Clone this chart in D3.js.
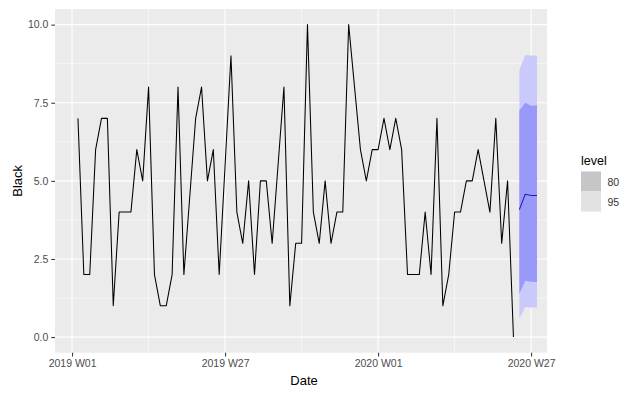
<!DOCTYPE html>
<html>
<head>
<meta charset="utf-8">
<script src="https://d3js.org/d3.v7.min.js"></script>
<style>
	body { margin: 0; background: white; }
	text { font-family: "Liberation Sans", Arial, sans-serif; }
</style>
</head>
<body>
<svg id="chart" width="628" height="396"></svg>
<script>
// Weekly "Black" series with a 4 week forecast (80 / 95 intervals)

// weeks are counted from 2019 W01 (= 0); 2019 has 52 ISO weeks
var start_week = 1; // first observation is 2019 W02
var black = [7, 2, 2, 6, 7, 7, 1, 4, 4, 4, 6, 5, 8, 2, 1, 1, 2, 8, 2, 4.5, 7, 8, 5, 6, 2, 5.5,
	9, 4, 3, 5, 2, 5, 5, 3, 5.5, 8, 1, 3, 3, 10, 4, 3, 5, 3, 4, 4, 10, 8, 6, 5, 6,
	6, 7, 6, 7, 6, 2, 2, 2, 4, 2, 7, 1, 2, 4, 4, 5, 5, 6, 5, 4, 7, 3, 5, 0];

var fc_weeks = [76, 77, 78, 79]; // 2020 W25 .. W28
var fc_mean = [4.08, 4.57, 4.53, 4.53];
var lo80 = [1.39, 1.80, 1.77, 1.76];
var hi80 = [7.25, 7.50, 7.40, 7.42];
var lo95 = [0.59, 0.96, 0.95, 0.95];
var hi95 = [8.55, 9.03, 9.01, 9.01];

var x_ticks = [0, 26, 52, 78];
var x_tick_labels = ["2019 W01", "2019 W27", "2020 W01", "2020 W27"];
var x_minor = [13, 39, 65];
var y_ticks = [0, 2.5, 5, 7.5, 10];
var y_minor = [1.25, 3.75, 6.25, 8.75];

var levels = ["80", "95"];
var level_keys = ["#c6c6c6", "#e2e2e2"];

function draw_chart(){
	var svg = d3.select("#chart");
	var panel = {left: 55, right: 547, top: 9, bottom: 352.7};

	var x = d3.scaleLinear().domain([-2.9, 80.7]).range([panel.left, panel.right]);
	var y = d3.scaleLinear().domain([-0.5, 10.5]).range([panel.bottom, panel.top]);

	svg.append("rect")
		.attr("x", panel.left).attr("y", panel.top)
		.attr("width", panel.right - panel.left)
		.attr("height", panel.bottom - panel.top)
		.attr("fill", "#ebebeb");

	var grid = svg.append("g").attr("stroke", "white");
	grid.selectAll(".ymin").data(y_minor).enter().append("line")
		.attr("x1", panel.left).attr("x2", panel.right)
		.attr("y1", d => y(d)).attr("y2", d => y(d))
		.attr("stroke-width", 0.55);
	grid.selectAll(".xmin").data(x_minor).enter().append("line")
		.attr("y1", panel.top).attr("y2", panel.bottom)
		.attr("x1", d => x(d)).attr("x2", d => x(d))
		.attr("stroke-width", 0.55);
	grid.selectAll(".ymaj").data(y_ticks).enter().append("line")
		.attr("x1", panel.left).attr("x2", panel.right)
		.attr("y1", d => y(d)).attr("y2", d => y(d))
		.attr("stroke-width", 1.1);
	grid.selectAll(".xmaj").data(x_ticks).enter().append("line")
		.attr("y1", panel.top).attr("y2", panel.bottom)
		.attr("x1", d => x(d)).attr("x2", d => x(d))
		.attr("stroke-width", 1.1);

	// forecast intervals, 95 underneath 80
	var fc = fc_weeks.map((w, i) => ({w: w, m: fc_mean[i], l80: lo80[i], h80: hi80[i], l95: lo95[i], h95: hi95[i]}));
	svg.append("path").datum(fc)
		.attr("fill", "#c9c9fc")
		.attr("d", d3.area().x(d => x(d.w)).y0(d => y(d.l95)).y1(d => y(d.h95)));
	svg.append("path").datum(fc)
		.attr("fill", "#9999f9")
		.attr("d", d3.area().x(d => x(d.w)).y0(d => y(d.l80)).y1(d => y(d.h80)));

	var obs = black.map((v, i) => ({w: start_week + i, v: v}));
	svg.append("path").datum(obs)
		.attr("fill", "none")
		.attr("stroke", "black")
		.attr("stroke-width", 1.05)
		.attr("stroke-linejoin", "round")
		.attr("d", d3.line().x(d => x(d.w)).y(d => y(d.v)));

	svg.append("path").datum(fc)
		.attr("fill", "none")
		.attr("stroke", "#1c1cb4")
		.attr("stroke-width", 1.05)
		.attr("d", d3.line().x(d => x(d.w)).y(d => y(d.m)));

	// axes, ggplot look
	var x_axis = svg.append("g")
		.attr("transform", "translate(0," + panel.bottom + ")")
		.call(d3.axisBottom(x).tickValues(x_ticks).tickSize(3.7).tickPadding(3)
			.tickFormat((d, i) => x_tick_labels[i]));
	var y_axis = svg.append("g")
		.attr("transform", "translate(" + panel.left + ",0)")
		.call(d3.axisLeft(y).tickValues(y_ticks).tickSize(3.7).tickPadding(3)
			.tickFormat(d3.format(".1f")));
	[x_axis, y_axis].forEach(a => {
		a.select(".domain").remove();
		a.selectAll(".tick line").attr("stroke", "#333333").attr("stroke-width", 1.05);
		a.selectAll(".tick text").attr("fill", "#4d4d4d")
			.style("font-size", "10.5px")
			.style("font-family", "'Liberation Sans', Arial, sans-serif");
	});

	svg.append("text")
		.attr("x", 304).attr("y", 385)
		.attr("text-anchor", "middle")
		.style("font-size", "13px")
		.text("Date");
	svg.append("text")
		.attr("transform", "translate(22," + (panel.top + panel.bottom) / 2 + ") rotate(-90)")
		.attr("text-anchor", "middle")
		.style("font-size", "13px")
		.text("Black");

	// legend
	var legend = svg.append("g").attr("transform", "translate(581,0)");
	legend.append("text")
		.attr("x", 0).attr("y", 165)
		.style("font-size", "12.5px")
		.text("level");
	var keys = legend.selectAll(".key").data(levels).enter().append("g")
		.attr("transform", (d, i) => "translate(0," + (171.5 + i * 20) + ")");
	keys.append("rect")
		.attr("width", 20).attr("height", 20)
		.attr("fill", (d, i) => level_keys[i]);
	keys.append("text")
		.attr("x", 26.5).attr("y", 14)
		.attr("fill", "#333333")
		.style("font-size", "10.5px")
		.text(d => d);
}

draw_chart();
</script>
</body>
</html>
